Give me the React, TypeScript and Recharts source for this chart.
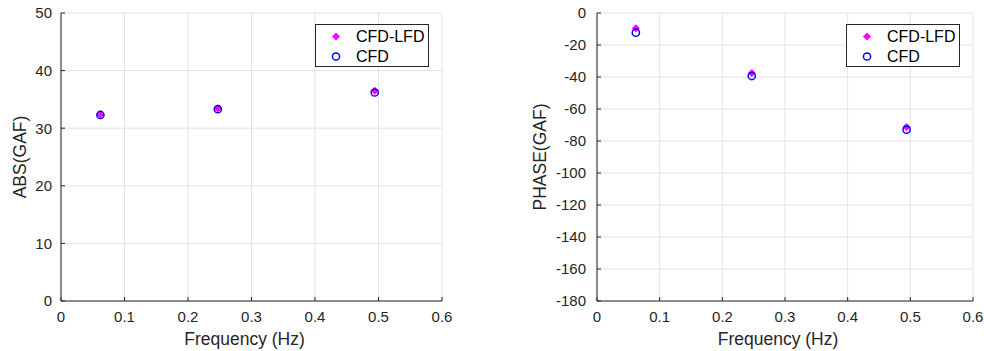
import {
	Legend,
	Scatter,
	ScatterChart,
	CartesianGrid,
	XAxis,
	YAxis,
} from 'recharts';

const frequency = [0.062, 0.247, 0.494];
const absLfd = [32.4, 33.4, 36.5];
const absCfd = [32.3, 33.3, 36.2];
const phaseLfd = [-9.6, -37.5, -71.3];
const phaseCfd = [-12.3, -39.4, -72.9];

const xTicks = [0, 0.1, 0.2, 0.3, 0.4, 0.5, 0.6];
const absTicks = [0, 10, 20, 30, 40, 50];
const phaseTicks = [-180, -160, -140, -120, -100, -80, -60, -40, -20, 0];

const FONT = '"Liberation Sans", Arial, Helvetica, sans-serif';
const AXIS_COLOR = '#262626';
const GRID_COLOR = '#e3e3e3';

const toPoints = (ys: number[]) => frequency.map((x, i) => ({ x, y: ys[i] }));

// filled magenta diamond
const Diamond = (props: any) => {
	const { cx, cy } = props;
	const r = 4;
	return (
		<polygon
			points={`${cx},${cy - r} ${cx + r},${cy} ${cx},${cy + r} ${cx - r},${cy}`}
			fill='#ff00ff'
		/>
	);
};

// open blue circle
const Ring = (props: any) => {
	const { cx, cy } = props;
	return <circle cx={cx} cy={cy} r={3.6} fill='none' stroke='#0000ff' strokeWidth={1.5} />;
};

const LegendBox = () => (
	<div
		style={{
			position: 'relative',
			width: 114,
			height: 43,
			boxSizing: 'border-box',
			border: `1px solid ${AXIS_COLOR}`,
			background: '#fff',
			fontFamily: FONT,
			fontSize: 16,
			color: '#000',
		}}
	>
		<svg width={20} height={43} style={{ position: 'absolute', left: 10, top: -1 }}>
			<Diamond cx={10} cy={12.5} />
			<Ring cx={10} cy={32.5} />
		</svg>
		<div style={{ position: 'absolute', left: 40, top: 2, lineHeight: '20px' }}>CFD-LFD</div>
		<div style={{ position: 'absolute', left: 40, top: 22, lineHeight: '20px' }}>CFD</div>
	</div>
);

interface PanelProps {
	width: number;
	yAxisWidth: number;
	rightMargin: number;
	yDomain: [number, number];
	yTicks: number[];
	yLabel: string;
	yTickMargin: number;
	lfd: number[];
	cfd: number[];
	legendLeft: number;
}

const Panel = (p: PanelProps) => (
	<ScatterChart
		width={p.width}
		height={351}
		margin={{ top: 13, right: p.rightMargin, bottom: 0, left: 0 }}
	>
		<CartesianGrid stroke={GRID_COLOR} xAxisId={0} yAxisId={0} />
		<XAxis
			type='number'
			dataKey='x'
			domain={[0, 0.6]}
			ticks={xTicks}
			height={50}
			stroke={AXIS_COLOR}
			tickSize={-4}
			tickMargin={14}
			tick={{ fill: AXIS_COLOR, fontSize: 15, fontFamily: FONT }}
			label={{
				value: 'Frequency (Hz)',
				position: 'insideBottom',
				offset: 6,
				dx: -7,
				style: { fill: AXIS_COLOR, fontSize: 17.5, fontFamily: FONT },
			}}
		/>
		<YAxis
			type='number'
			dataKey='y'
			domain={p.yDomain}
			ticks={p.yTicks}
			width={p.yAxisWidth}
			stroke={AXIS_COLOR}
			tickSize={-4}
			tickMargin={p.yTickMargin}
			tick={{ fill: AXIS_COLOR, fontSize: 15, fontFamily: FONT }}
			label={{
				value: p.yLabel,
				angle: -90,
				position: 'insideLeft',
				offset: 20,
				style: { fill: AXIS_COLOR, fontSize: 17.5, fontFamily: FONT, textAnchor: 'middle' },
			}}
		/>
		<XAxis
			xAxisId='top'
			orientation='top'
			type='number'
			domain={[0, 0.6]}
			ticks={xTicks}
			height={0}
			stroke={AXIS_COLOR}
			tickSize={-4}
			tick={false}
		/>
		<YAxis
			yAxisId='right'
			orientation='right'
			type='number'
			domain={p.yDomain}
			ticks={p.yTicks}
			width={0}
			stroke={AXIS_COLOR}
			tickSize={-4}
			tick={false}
		/>
		<Scatter
			name='CFD-LFD'
			data={toPoints(p.lfd)}
			shape={Diamond}
			isAnimationActive={false}
		/>
		<Scatter
			name='CFD'
			data={toPoints(p.cfd)}
			shape={Ring}
			isAnimationActive={false}
		/>
		<Legend
			layout='horizontal'
			align='center'
			verticalAlign='middle'
			wrapperStyle={{ left: p.legendLeft, top: 24, width: 114, height: 43 }}
			content={() => <LegendBox />}
		/>
	</ScatterChart>
);

export default function App() {
	return (
		<div
			style={{
				position: 'absolute',
				left: 0,
				top: 0,
				width: 984,
				height: 351,
				background: '#fff',
				display: 'flex',
			}}
		>
			<Panel
				width={520}
				yAxisWidth={61}
				rightMargin={78}
				yDomain={[0, 50]}
				yTicks={absTicks}
				yLabel='ABS(GAF)'
				yTickMargin={13}
				lfd={absLfd}
				cfd={absCfd}
				legendLeft={315}
			/>
			<Panel
				width={464}
				yAxisWidth={77}
				rightMargin={11}
				yDomain={[-180, 0]}
				yTicks={phaseTicks}
				yLabel='PHASE(GAF)'
				yTickMargin={15}
				lfd={phaseLfd}
				cfd={phaseCfd}
				legendLeft={326}
			/>
		</div>
	);
}
